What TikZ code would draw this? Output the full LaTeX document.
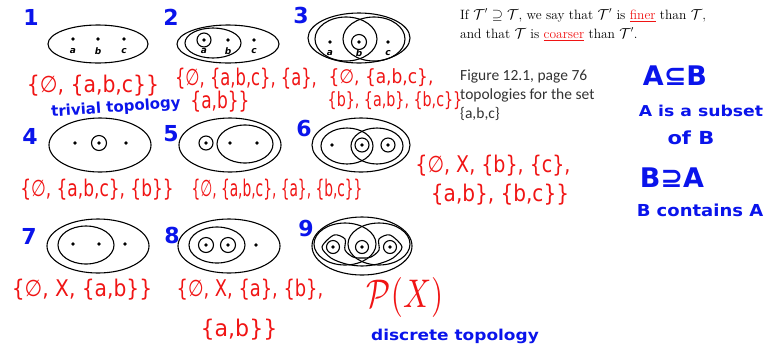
\documentclass[tikz,border=0pt]{standalone}
\usepackage{amsmath,amssymb}
\usepackage{graphicx}
\usepackage{fontspec}
\newfontfamily\handfont{DejaVu Sans}
\newfontfamily\notefont{Carlito}
\definecolor{inkred}{RGB}{240,20,20}
\definecolor{inkblue}{RGB}{10,20,235}
\definecolor{notegray}{RGB}{50,50,50}
\newcommand{\elem}[1]{\fill (#1) circle (1.8);}
\newcommand{\hand}[2][1]{\scalebox{#1}[1.35]{#2}}

\begin{document}
\begin{tikzpicture}[x=1pt, y=-1pt,
    set/.style={draw, line width=1.1pt},
    num/.style={text=inkblue, font=\handfont\bfseries\fontsize{22}{22}\selectfont},
    rednote/.style={text=inkred, font=\handfont\fontsize{17}{19}\selectfont, inner sep=0pt},
    bluenote/.style={text=inkblue, font=\handfont\bfseries\fontsize{15}{17}\selectfont, inner sep=0pt},
    elt/.style={font=\handfont\itshape\bfseries\fontsize{9}{9}\selectfont, inner sep=0pt},
    book/.style={anchor=base west, inner sep=0pt, font=\fontsize{13.5}{16}\selectfont},
    figtext/.style={anchor=base west, inner sep=0pt, text=notegray, font=\notefont\fontsize{15.5}{18}\selectfont}]
    \useasboundingbox (0,0) rectangle (765,360);

    % numbers
    \node[num] (n1) at (31,17) {1};
    \node[num] (n2) at (171,17) {2};
    \node[num] (n3) at (301,15) {3};
    \node[num] (n4) at (30,136) {4};
    \node[num] (n5) at (171,134) {5};
    \node[num] (n6) at (304,128) {6};
    \node[num] (n7) at (29,236) {7};
    \node[num] (n8) at (172,235) {8};
    \node[num] (n9) at (306,228) {9};

    % 1
    \draw[set] (98,44) ellipse [x radius=50, y radius=19];
    \elem{73,39} \elem{98,39} \elem{124,39}
    \node[elt] (a1) at (73,51) {a};
    \node[elt] (b1) at (98,51) {b};
    \node[elt] (c1) at (124,51) {c};

    % 2
    \draw[set] (228,44) ellipse [x radius=51, y radius=19];
    \draw[set] (213,43) ellipse [x radius=28, y radius=15];
    \draw[set] (204,40) circle (7);
    \elem{204,40} \elem{228,40} \elem{254,40}
    \node[elt] (a2) at (204,51) {a};
    \node[elt] (b2) at (228,51) {b};
    \node[elt] (c2) at (254,51) {c};

    % 3
    \draw[set] (359,38) ellipse [x radius=51, y radius=25];
    \draw[set] (346,39) ellipse [x radius=31, y radius=22];
    \draw[set] (374,39) ellipse [x radius=31, y radius=22];
    \draw[set] (359,42) circle (7.5);
    \elem{330,42} \elem{359,42} \elem{388,42}
    \node[elt] (a3) at (330,53) {a};
    \node[elt] (b3) at (359,53) {b};
    \node[elt] (c3) at (388,53) {c};

    % 4
    \draw[set] (100,145) ellipse [x radius=51, y radius=27];
    \draw[set] (99,143) circle (7.5);
    \elem{75,143} \elem{99,143} \elem{126,143}

    % 5
    \draw[set] (230,145) ellipse [x radius=51, y radius=27];
    \draw[set] (245,144) ellipse [x radius=28, y radius=19];
    \draw[set] (206,143) circle (7);
    \elem{206,143} \elem{230,143} \elem{257,143}

    % 6
    \draw[set] (361,145) ellipse [x radius=49, y radius=27];
    \draw[set] (347,146) ellipse [x radius=26, y radius=18];
    \draw[set] (377,146) ellipse [x radius=26, y radius=18];
    \draw[set] (362,145) circle (7);
    \draw[set] (388,145) circle (7);
    \elem{332,145} \elem{362,145} \elem{388,145}

    % 7
    \draw[set] (98,246) ellipse [x radius=51, y radius=27];
    \draw[set] (86,245) ellipse [x radius=28, y radius=19];
    \elem{73,244} \elem{99,244} \elem{125,244}

    % 8
    \draw[set] (229,246) ellipse [x radius=51, y radius=27];
    \draw[set] (217,245) ellipse [x radius=28, y radius=18];
    \draw[set] (206,245) circle (7.5);
    \draw[set] (228,245) circle (7.5);
    \elem{206,245} \elem{228,245} \elem{256,245}

    % 9
    \draw[set] (362,246) ellipse [x radius=50, y radius=29];
    \draw[set] (345,244) ellipse [x radius=31, y radius=21];
    \draw[set] (379,244) ellipse [x radius=31, y radius=21];
    \draw[set] plot[smooth cycle, tension=0.5] coordinates {(345,250) (353,257) (362,258) (371,257) (379,250)
        (379,239) (390,235) (402,247) (393,258) (378,264) (362,266) (346,264) (331,258) (322,247) (334,235) (345,239)};
    \draw[set] (333,247) circle (6.5);
    \draw[set] (362,247) circle (6.5);
    \draw[set] (390,247) circle (6.5);
    \elem{333,247} \elem{362,247} \elem{390,247}

    % red notes
    \node[rednote] (t1) at (93,86) {\hand[1.2]{\{∅, \{a,b,c\}\}}};
    \node[bluenote, rotate=4] (triv) at (116,108) {trivial topology};
    \node[rednote] (t2a) at (246,79) {\hand[0.96]{\{∅, \{a,b,c\}, \{a\},}};
    \node[rednote] (t2b) at (220,102) {\hand{\{a,b\}\}}};
    \node[rednote] (t3a) at (381,78) {\scalebox{1}[1.15]{\{∅, \{a,b,c\},}};
    \node[rednote] (t3b) at (395,101) {\scalebox{0.84}[1.15]{\{b\}, \{a,b\}, \{b,c\}\}}};
    \node[rednote] (t4) at (97,190) {\hand{\{∅, \{a,b,c\}, \{b\}\}}};
    \node[rednote] (t5) at (277,190) {\hand[0.81]{\{∅, \{a,b,c\}, \{a\}, \{b,c\}\}}};
    \node[rednote] (t6a) at (493,166) {\hand[1.12]{\{∅, X, \{b\}, \{c\},}};
    \node[rednote] (t6b) at (500,195) {\hand[1.18]{\{a,b\}, \{b,c\}\}}};
    \node[rednote] (t7) at (82,290) {\hand[1.19]{\{∅, X, \{a,b\}\}}};
    \node[rednote] (t8a) at (250,290) {\hand[1.05]{\{∅, X, \{a\}, \{b\},}};
    \node[rednote] (t8b) at (239,330) {\hand[1.3]{\{a,b\}\}}};
    \node[text=inkred, inner sep=0pt] (pow) at (405,297) {\scalebox{3.1}[4]{$\mathcal{P}(X)$}};
    \node[bluenote] (disc) at (455,336) {\scalebox{1.13}[1]{discrete topology}};

    % book text
    \node[book] (finer) at (460,19) {If $\mathcal{T}'\supseteq\mathcal{T}$, we say that $\mathcal{T}'$ is \textcolor{inkred}{\underline{finer}} than $\mathcal{T}$,};
    \node[book] (coarser) at (460,38) {and that $\mathcal{T}$ is \textcolor{inkred}{\underline{coarser}} than $\mathcal{T}'$.};
    \node[figtext] (fig1) at (460,80) {Figure 12.1, page 76};
    \node[figtext] (fig2) at (460,99) {topologies for the set};
    \node[figtext] (fig3) at (460,118) {\{a,b,c\}};

    % blue notes
    \node[bluenote, font=\handfont\bfseries\fontsize{27}{27}\selectfont] (sub) at (675,76) {A⊆B};
    \node[bluenote] (subtxt) at (701,111) {\scalebox{1.15}[1]{A is a subset}};
    \node[bluenote] (ofb) at (691,138) {\scalebox{1.4}[1.2]{of B}};
    \node[bluenote, font=\handfont\bfseries\fontsize{27}{27}\selectfont] (sup) at (672,178) {B⊇A};
    \node[bluenote] (cont) at (700,210) {\scalebox{1.2}[1.1]{B contains A}};
\end{tikzpicture}
\end{document}
